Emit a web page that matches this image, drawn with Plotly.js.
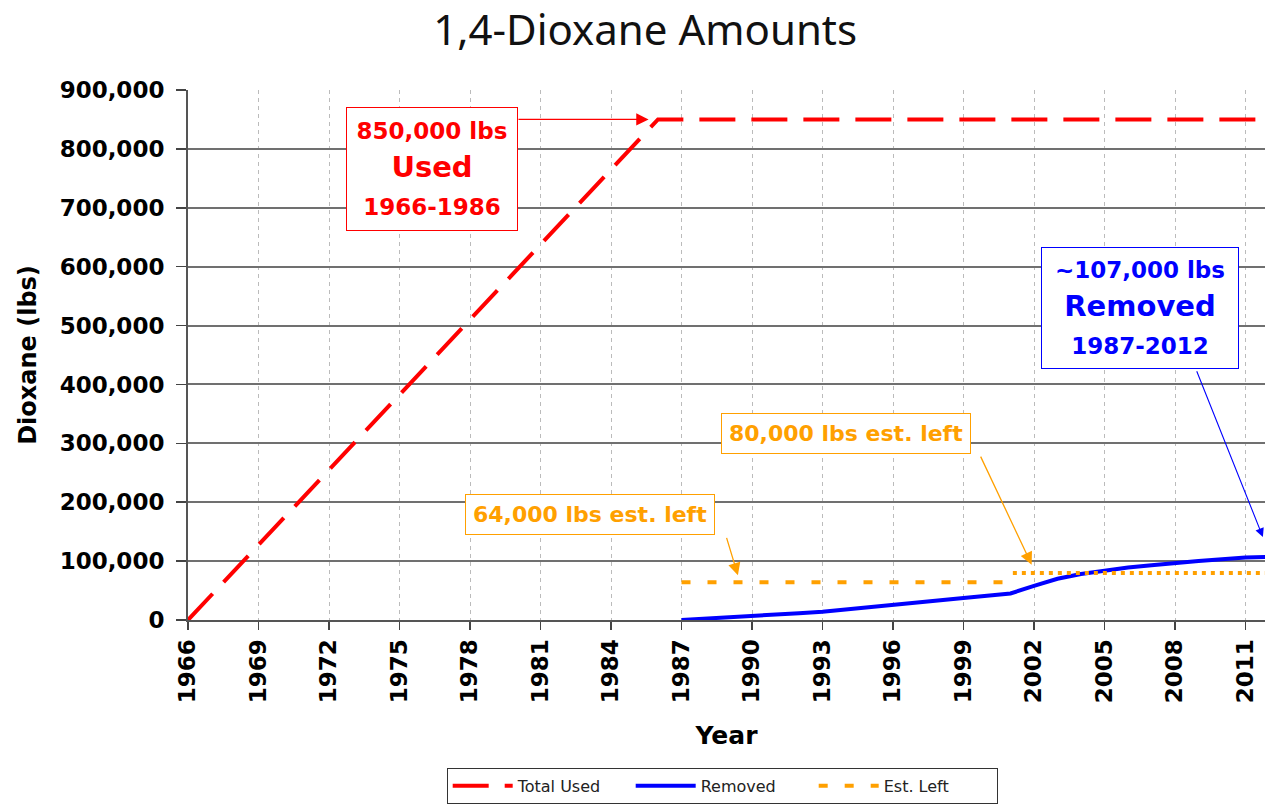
<!DOCTYPE html>
<html>
<head>
<meta charset="utf-8">
<script src="https://cdn.plot.ly/plotly-3.0.1.min.js"></script>
<style>html,body{margin:0;padding:0;background:#fff;}#chart{width:1265px;height:809px;}</style>
</head>
<body>
<div id="chart"></div>
<script>
// ---- data ----
const usedYears = [1966, 1986, 2012];
const usedValues = [0, 850000, 850000];

const removedYears = [1987, 1988, 1989, 1990, 1991, 1992, 1993, 1994, 1995, 1996, 1997, 1998, 1999,
                      2000, 2001, 2002, 2003, 2004, 2005, 2006, 2007, 2008, 2009, 2010, 2011, 2012];
const removedValues = [0, 2000, 4000, 6500, 9000, 11500, 14000, 18000, 23000, 27000, 30500, 34000, 37500,
                       41000, 45000, 58000, 70000, 78000, 84000, 89000, 93000, 97000, 100000, 103000, 106000, 107000];

const leftYearsEarly = [1987, 2001];
const leftValuesEarly = [64000, 64000];
const leftYearsLate = [2001.1, 2012];
const leftValuesLate = [80000, 80000];

const tickYears = [1966, 1969, 1972, 1975, 1978, 1981, 1984, 1987, 1990, 1993, 1996, 1999, 2002, 2005, 2008, 2011];
const yTicks = [0, 100000, 200000, 300000, 400000, 500000, 600000, 700000, 800000, 900000];
const yTickLabels = ['0', '100,000', '200,000', '300,000', '400,000', '500,000', '600,000', '700,000', '800,000', '900,000'];

const RED = '#ff0000', BLUE = '#0000ff', ORANGE = '#ffa000';
const F = 'DejaVu Sans, sans-serif';

const traces = [
  {x: usedYears, y: usedValues, mode: 'lines', name: 'Total Used',
   line: {color: RED, width: 4, dash: '36px,16px'}},
  {x: removedYears, y: removedValues, mode: 'lines', name: 'Removed',
   line: {color: BLUE, width: 4}},
  {x: leftYearsEarly, y: leftValuesEarly, mode: 'lines', name: 'Est. Left', legendgroup: 'left',
   line: {color: ORANGE, width: 4, dash: '9px,17px'}},
  {x: leftYearsLate, y: leftValuesLate, mode: 'lines', name: 'Est. Left', legendgroup: 'left', showlegend: false,
   line: {color: ORANGE, width: 4, dash: '4px,5px'}}
];

const boxFont = (c, s) => ({family: F, size: s, color: c, weight: 'bold'});

const annotations = [
  // red text box
  {x: 1976.4, y: 766000, xref: 'x', yref: 'y', showarrow: false,
   text: '<span style="font-size:23px">850,000 lbs</span><br>Used<br><span style="font-size:23px">1966-1986</span>',
   font: boxFont(RED, 29), bordercolor: RED, borderwidth: 1, bgcolor: '#ffffff', borderpad: 4,
   width: 162, height: 114, xanchor: 'center', yanchor: 'middle'},
  // red arrow
  {x: 1985.6, y: 850000, ax: 1980.0, ay: 850000, xref: 'x', yref: 'y', axref: 'x', ayref: 'y',
   text: '', showarrow: true, arrowhead: 2, arrowsize: 1.9, arrowwidth: 1.3, arrowcolor: RED},
  // orange 64k box
  {x: 1983.1, y: 180000, xref: 'x', yref: 'y', showarrow: false,
   text: '64,000 lbs est. left', font: boxFont(ORANGE, 22), bordercolor: ORANGE, borderwidth: 1,
   bgcolor: '#ffffff', borderpad: 7, xanchor: 'center', yanchor: 'middle'},
  {x: 1989.4, y: 76000, ax: 1988.9, ay: 142000, xref: 'x', yref: 'y', axref: 'x', ayref: 'y',
   text: '', showarrow: true, arrowhead: 2, arrowsize: 1.9, arrowwidth: 1.3, arrowcolor: ORANGE},
  // orange 80k box
  {x: 1994.0, y: 316000, xref: 'x', yref: 'y', showarrow: false,
   text: '80,000 lbs est. left', font: boxFont(ORANGE, 22), bordercolor: ORANGE, borderwidth: 1,
   bgcolor: '#ffffff', borderpad: 7, xanchor: 'center', yanchor: 'middle'},
  {x: 2001.9, y: 94000, ax: 1999.7, ay: 280000, xref: 'x', yref: 'y', axref: 'x', ayref: 'y',
   text: '', showarrow: true, arrowhead: 2, arrowsize: 1.9, arrowwidth: 1.3, arrowcolor: ORANGE},
  // blue box
  {x: 2006.5, y: 530000, xref: 'x', yref: 'y', showarrow: false,
   text: '<span style="font-size:23px">~107,000 lbs</span><br>Removed<br><span style="font-size:23px">1987-2012</span>',
   font: boxFont(BLUE, 29), bordercolor: BLUE, borderwidth: 1, bgcolor: '#ffffff', borderpad: 4,
   width: 188, height: 112, xanchor: 'center', yanchor: 'middle'},
  {x: 2011.74, y: 141000, ax: 2008.9, ay: 425000, xref: 'x', yref: 'y', axref: 'x', ayref: 'y',
   text: '', showarrow: true, arrowhead: 2, arrowsize: 1.6, arrowwidth: 1.1, arrowcolor: BLUE}
];

const layout = {
  width: 1265, height: 809,
  margin: {l: 188, r: 0, t: 90, b: 189},
  paper_bgcolor: '#ffffff', plot_bgcolor: '#ffffff',
  title: {text: '1,4-Dioxane Amounts', font: {family: 'Noto Sans, Open Sans, sans-serif', size: 42, color: '#111'},
          x: 0.51, xref: 'container', xanchor: 'center', y: 0.963, yref: 'container', yanchor: 'middle'},
  showlegend: true,
  legend: {orientation: 'h', x: 0.496, xanchor: 'center', y: -0.279, yanchor: 'top',
           font: {family: F, size: 16, color: '#222'}, bordercolor: '#333', borderwidth: 1, bgcolor: '#fff',
           traceorder: 'normal', entrywidth: 108, entrywidthmode: 'pixels', itemwidth: 60},
  xaxis: {range: [1966, 2011.83], tickmode: 'array', tickvals: tickYears, ticktext: tickYears.map(String),
          tickangle: -90, tickfont: {family: F, size: 23, color: '#000', weight: 'bold'},
          ticks: 'outside', ticklen: 8, tickcolor: '#444', tickwidth: 1.5,
          showline: true, linecolor: '#555', linewidth: 2, zeroline: false,
          showgrid: true, gridcolor: '#bbbbbb', gridwidth: 1, griddash: '4px,4px',
          title: {text: 'Year', font: {family: F, size: 25, color: '#000', weight: 'bold'}, standoff: 24}},
  yaxis: {range: [0, 900000], tickmode: 'array', tickvals: yTicks, ticktext: yTickLabels,
          tickfont: {family: F, size: 23, color: '#000', weight: 'bold'},
          ticks: 'outside', ticklen: 10, tickcolor: '#444', tickwidth: 1.5, ticklabelstandoff: 7,
          showline: true, linecolor: '#555', linewidth: 2, zeroline: false,
          showgrid: true, gridcolor: '#707070', gridwidth: 2,
          title: {text: 'Dioxane (lbs)', font: {family: F, size: 24, color: '#000', weight: 'bold'}, standoff: 16}},
  annotations: annotations
};

Plotly.newPlot('chart', traces, layout, {displayModeBar: false, staticPlot: true});
</script>
</body>
</html>
